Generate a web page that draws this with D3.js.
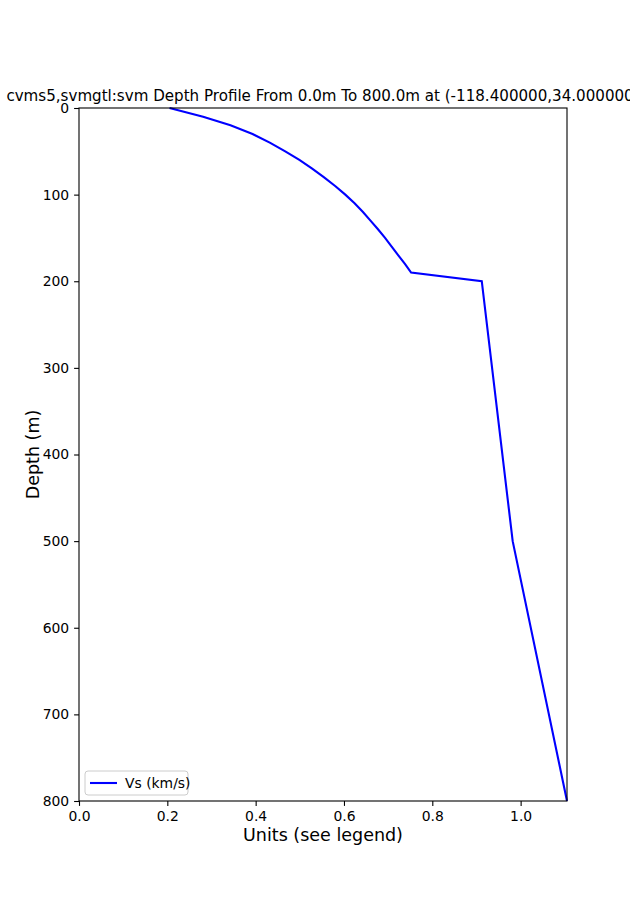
<!DOCTYPE html>
<html><head><meta charset="utf-8">
<script src="https://cdn.jsdelivr.net/npm/d3@7"></script>
<style>body{margin:0;background:#fff;} svg{display:block;font-family:"DejaVu Sans",sans-serif;}</style>
</head><body>
<script>
const depths = [0,10,20,30,40,50,60,70,80,90,100,110,120,130,140,150,160,170,180,190,200,500,800];
const vs     = [0.205,0.281,0.343,0.393,0.432,0.467,0.499,0.528,0.555,0.580,0.603,0.624,0.643,0.660,0.677,0.693,0.708,0.723,0.738,0.752,0.912,0.982,1.105];
const xTicks = [0,0.2,0.4,0.6,0.8,1.0];
const yTicks = [0,100,200,300,400,500,600,700,800];
const titleText = "cvms5,svmgtl:svm Depth Profile From 0.0m To 800.0m at (-118.400000,34.000000)";
const seriesName = "Vs (km/s)";

const W=630,H=900, L=79, R=567, T=108, B=801;
const svg=d3.select("body").append("svg").attr("width",W).attr("height",H);
const x=d3.scaleLinear().domain([0,1.105]).range([L,R]);
const y=d3.scaleLinear().domain([0,800]).range([T,B]);

svg.append("path").datum(depths.map((d,i)=>[vs[i],d]))
  .attr("d",d3.line().x(d=>x(d[0])).y(d=>y(d[1])))
  .attr("fill","none").attr("stroke","#0000ff").attr("stroke-width",2.1);

const xa=svg.append("g").attr("transform",`translate(0,${B})`)
  .call(d3.axisBottom(x).tickValues(xTicks).tickFormat(d3.format(".1f")).tickSizeOuter(0).tickSize(4.9).tickPadding(4.9));
const ya=svg.append("g").attr("transform",`translate(${L},0)`)
  .call(d3.axisLeft(y).tickValues(yTicks).tickFormat(d3.format("d")).tickSizeOuter(0).tickSize(4.9).tickPadding(4.9));
[xa,ya].forEach(g=>{g.select(".domain").remove();
  g.selectAll("text").attr("font-family","DejaVu Sans").attr("font-size",13.9).attr("fill","#000");
  g.selectAll("line").attr("stroke","#000").attr("stroke-width",1.1);});

svg.append("rect").attr("x",L).attr("y",T).attr("width",R-L).attr("height",B-T)
  .attr("fill","none").attr("stroke","#000").attr("stroke-width",1.1);

svg.append("text").attr("x",(L+R)/2).attr("y",101).attr("text-anchor","middle")
  .attr("font-size",15.1).text(titleText);
svg.append("text").attr("x",(L+R)/2).attr("y",841).attr("text-anchor","middle")
  .attr("font-size",17.5).text("Units (see legend)");
svg.append("text").attr("transform",`translate(39,${(T+B)/2}) rotate(-90)`).attr("text-anchor","middle")
  .attr("font-size",17.5).text("Depth (m)");

const lg=svg.append("g");
lg.append("rect").attr("x",85).attr("y",771).attr("width",103).attr("height",24).attr("rx",3)
  .attr("fill","#fff").attr("fill-opacity",0.8).attr("stroke","#ccc").attr("stroke-width",1);
lg.append("line").attr("x1",90).attr("x2",117).attr("y1",783).attr("y2",783)
  .attr("stroke","#0000ff").attr("stroke-width",2.1);
lg.append("text").attr("x",125).attr("y",788).attr("font-size",13.9).text(seriesName);
</script>
</body></html>
